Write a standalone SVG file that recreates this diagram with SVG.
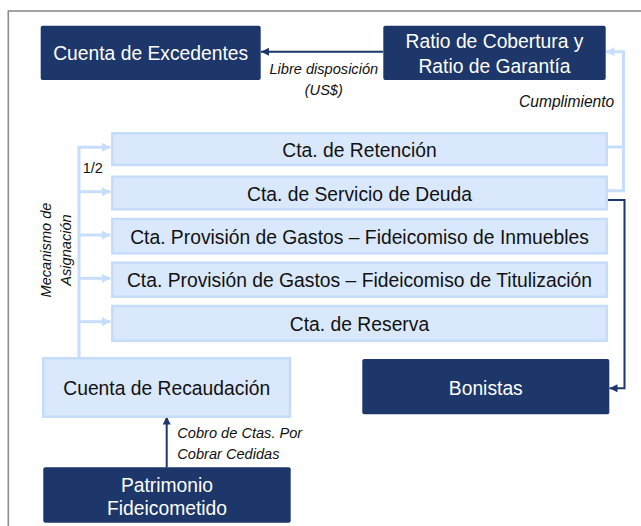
<svg xmlns="http://www.w3.org/2000/svg" width="641" height="526" viewBox="0 0 641 526">
  <defs>
    <marker id="navyArrow" markerUnits="userSpaceOnUse" markerWidth="9" markerHeight="9" refX="8" refY="4" orient="auto">
      <path d="M0,0 L8,4 L0,8 z" fill="#1d376a"/>
    </marker>
    <marker id="lightArrow" markerUnits="userSpaceOnUse" markerWidth="10" markerHeight="10" refX="8.5" refY="4.5" orient="auto">
      <path d="M0,0 L8.5,4.5 L0,9 z" fill="#c6defb"/>
    </marker>
  </defs>
  <style>
    .dark { fill: #1d376a; }
    .light { fill: #d9e8fc; stroke: #c5dcf9; stroke-width: 2.5; }
    .t { font-family: "Liberation Sans", Arial, sans-serif; font-size: 19.3px; text-anchor: middle; }
    .tw { fill: #ffffff; }
    .tb { fill: #111111; }
    .lbl { font-family: "Liberation Sans", Arial, sans-serif; font-size: 14.6px; font-style: italic; fill: #111111; }
    .navy { fill: none; stroke: #1d376a; stroke-width: 2; }
    .lc { fill: none; stroke: #c6defb; stroke-width: 3; }
  </style>
  <rect width="641" height="526" fill="#ffffff"/>
  <rect x="8.3" y="11" width="700" height="600" fill="none" stroke="#8c8c8c" stroke-width="1.6"/>

  <g id="connectors">
    <line class="navy" x1="383" y1="51.7" x2="261" y2="51.7" marker-end="url(#navyArrow)"/>
    <line class="navy" x1="166.7" y1="467.5" x2="166.7" y2="416.5" marker-end="url(#navyArrow)"/>
    <path class="navy" d="M607,200 H624.5 V388.3 H609.5" marker-end="url(#navyArrow)"/>
    <path class="lc" d="M79,358.5 V147.3 H110.5" marker-end="url(#lightArrow)"/>
    <path class="lc" d="M79,191.7 H110.5" marker-end="url(#lightArrow)"/>
    <path class="lc" d="M79,235 H110.5" marker-end="url(#lightArrow)"/>
    <path class="lc" d="M79,278.3 H110.5" marker-end="url(#lightArrow)"/>
    <path class="lc" d="M79,321.7 H110.5" marker-end="url(#lightArrow)"/>
    <path class="lc" d="M607,147 H623.5"/>
    <path class="lc" d="M607,190.7 H623.5 V51.7 H606" marker-end="url(#lightArrow)"/>
  </g>

  <g id="cuenta-excedentes">
    <rect class="dark" x="40.7" y="25.7" width="220" height="54.3" rx="2"/>
    <text class="t tw" x="150.7" y="60.3">Cuenta de Excedentes</text>
  </g>
  <g id="ratio">
    <rect class="dark" x="383.3" y="25.7" width="222.4" height="54.3" rx="2"/>
    <text class="t tw" x="494.5" y="48.3">Ratio de Cobertura y</text>
    <text class="t tw" x="494.5" y="72.7">Ratio de Garantía</text>
  </g>
  <g id="cta-retencion">
    <rect class="light" x="112.3" y="133.3" width="494.4" height="31.7"/>
    <text class="t tb" x="359.5" y="156.5">Cta. de Retención</text>
  </g>
  <g id="cta-servicio-deuda">
    <rect class="light" x="112.3" y="176.7" width="494.4" height="32.6"/>
    <text class="t tb" x="359.5" y="200.5">Cta. de Servicio de Deuda</text>
  </g>
  <g id="cta-gastos-inmuebles">
    <rect class="light" x="112.3" y="219" width="494.4" height="34.3"/>
    <text class="t tb" x="359.5" y="243.5">Cta. Provisión de Gastos – Fideicomiso de Inmuebles</text>
  </g>
  <g id="cta-gastos-titulizacion">
    <rect class="light" x="112.3" y="262.7" width="494.4" height="34"/>
    <text class="t tb" x="359.5" y="287.2">Cta. Provisión de Gastos – Fideicomiso de Titulización</text>
  </g>
  <g id="cta-reserva">
    <rect class="light" x="112.3" y="306" width="494.4" height="34.7"/>
    <text class="t tb" x="359.5" y="330.8">Cta. de Reserva</text>
  </g>
  <g id="cuenta-recaudacion">
    <rect class="light" x="43.3" y="358.3" width="246.7" height="58.4"/>
    <text class="t tb" x="166.7" y="395">Cuenta de Recaudación</text>
  </g>
  <g id="bonistas">
    <rect class="dark" x="362.3" y="359" width="247" height="55.3" rx="2"/>
    <text class="t tw" x="485.8" y="395">Bonistas</text>
  </g>
  <g id="patrimonio">
    <rect class="dark" x="43.3" y="467.3" width="247.4" height="55.4" rx="2"/>
    <text class="t tw" x="167" y="491.5">Patrimonio</text>
    <text class="t tw" x="167" y="515">Fideicometido</text>
  </g>

  <g id="labels">
    <text class="lbl" x="323.8" y="74" text-anchor="middle">Libre disposición</text>
    <text class="lbl" x="323.8" y="95" text-anchor="middle">(US$)</text>
    <text class="lbl" x="614.3" y="107.3" text-anchor="end" style="font-size:15.6px">Cumplimiento</text>
    <text class="lbl" x="177.3" y="438.3">Cobro de Ctas. Por</text>
    <text class="lbl" x="177.3" y="459">Cobrar Cedidas</text>
    <text x="82.7" y="173.3" font-family="Liberation Sans, Arial, sans-serif" font-size="14.5" fill="#111111">1/2</text>
    <text class="lbl" transform="translate(50.7,250) rotate(-90)" text-anchor="middle">Mecanismo de</text>
    <text class="lbl" transform="translate(70.7,250) rotate(-90)" text-anchor="middle">Asignación</text>
  </g>
</svg>
